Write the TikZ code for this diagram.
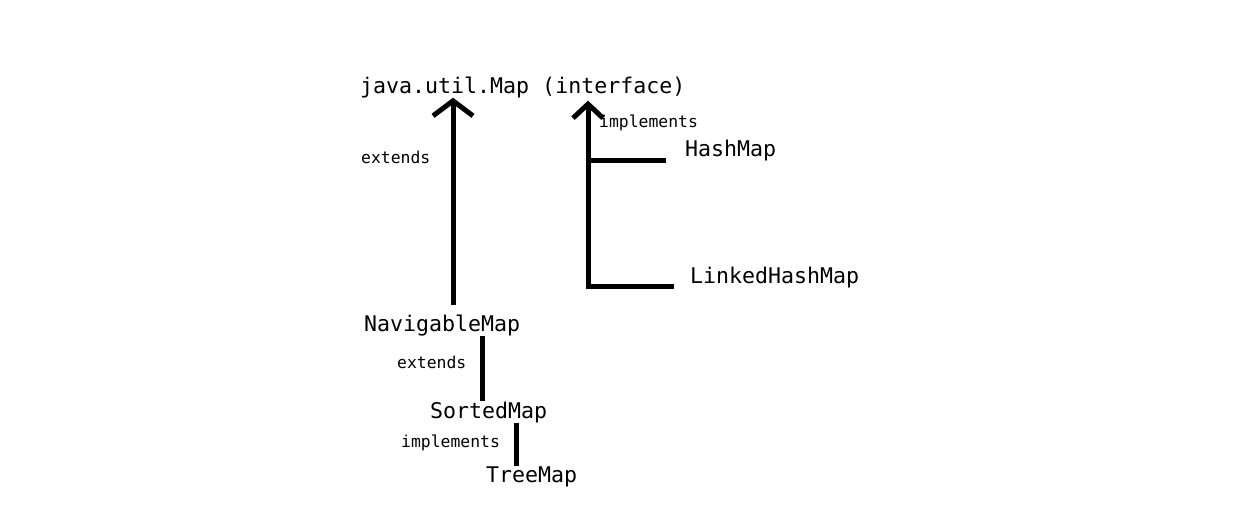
\documentclass[tikz,border=0pt]{standalone}
\usepackage{fontspec}
\setmonofont{DejaVu Sans Mono}
\usetikzlibrary{arrows.meta}
\tikzset{
  big/.style={inner sep=0pt, anchor=base west, font=\ttfamily\fontsize{21.6}{24}\selectfont},
  small/.style={inner sep=0pt, anchor=base west, font=\ttfamily\fontsize{16.4}{19}\selectfont},
  conn/.style={line width=5pt, black},
  arrL/.style={conn, -{Straight Barb[length=15pt,width=40pt]}},
  arrR/.style={conn, -{Straight Barb[length=14pt,width=30pt]}}
}
\begin{document}
\begin{tikzpicture}[x=1pt,y=1pt]
\useasboundingbox[fill=white] (0,0) rectangle (1256,-511);
\node[big] (map) at (360,-93) {java.util.Map (interface)};
\node[small] (impl1) at (599,-128) {implements};
\node[small] (ext1) at (361,-163) {extends};
\node[big] (hm) at (685,-156) {HashMap};
\node[big] (lhm) at (690,-283) {LinkedHashMap};
\node[big] (nav) at (364,-331) {NavigableMap};
\node[small] (ext2) at (397,-368) {extends};
\node[big] (sorted) at (430,-418) {SortedMap};
\node[small] (impl2) at (401,-447) {implements};
\node[big] (tree) at (486,-482) {TreeMap};
\coordinate (L) at (453,0);
\coordinate (R) at (588,0);
\coordinate (M) at (482,0);
\coordinate (T) at (516,0);
\draw[arrL] ([yshift=9pt]nav.north -| L) -- (map.south -| L);
\draw[arrR] ([xshift=-16pt,yshift=-3pt]lhm.base west) -| ([yshift=-3pt]map.south -| R);
\draw[conn] ([xshift=-19pt,yshift=-4pt]hm.base west) -- ([yshift=-4pt]hm.base west -| R);
\draw[conn] (nav.south -| M) -- (sorted.north -| M);
\draw[conn] (sorted.south -| T) -- (tree.north -| T);
\end{tikzpicture}
\end{document}
